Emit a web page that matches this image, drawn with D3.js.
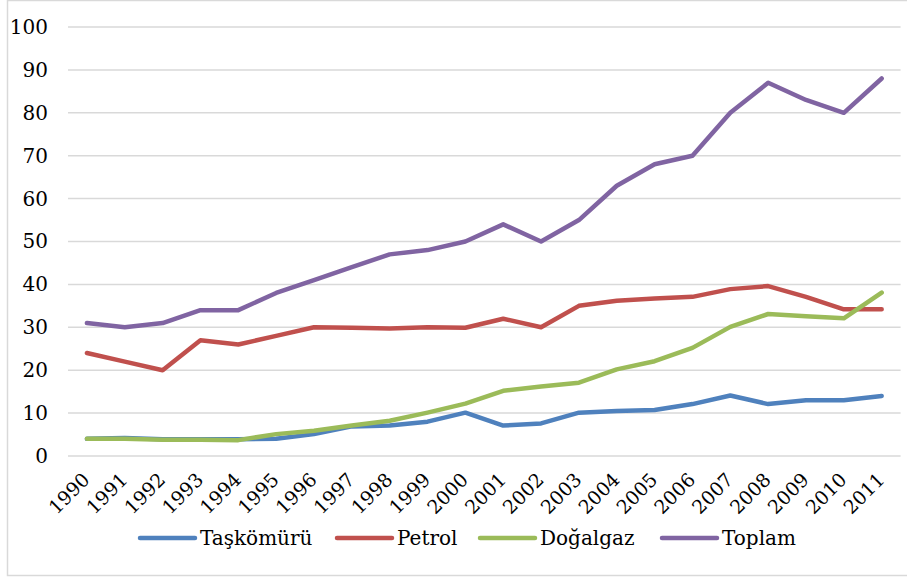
<!DOCTYPE html>
<html><head><meta charset="utf-8">
<script src="https://cdn.jsdelivr.net/npm/d3@7"></script>
<style>body{margin:0;background:#fff}svg{display:block}</style>
</head><body><svg id="c" width="907" height="578" font-family="DejaVu Serif"></svg>
<script>
const years = ["1990","1991","1992","1993","1994","1995","1996","1997","1998","1999","2000","2001","2002","2003","2004","2005","2006","2007","2008","2009","2010","2011"];
const taskomuru = [4,4.2,3.9,3.9,3.9,4,5.1,6.9,7.1,8,10.1,7.1,7.6,10.1,10.5,10.7,12.1,14.1,12.1,13,13,14];
const petrol = [24,22,20,27,26,28,30,29.9,29.7,30,29.9,32,30,35,36.2,36.7,37.1,38.9,39.6,37.1,34.2,34.2];
const dogalgaz = [4,4,3.8,3.8,3.7,5.1,5.9,7.1,8.2,10.1,12.2,15.2,16.2,17.1,20.2,22.1,25.2,30.1,33.1,32.6,32.1,38.1];
const toplam = [31,30,31,34,34,38,41,44,47,48,50,54,50,55,63,68,70,80,87,83,80,88];
const yTicks = [0,10,20,30,40,50,60,70,80,90,100];
const seriesNames = ["Taşkömürü","Petrol","Doğalgaz","Toplam"];
const colors = ["#4F81BD","#C0504D","#9BBB59","#8064A2"];
const seriesData = [taskomuru, petrol, dogalgaz, toplam];
const FONT = "DejaVu Serif";

const svg = d3.select("#c");
svg.append("rect").attr("x",7.5).attr("y",0.5).attr("width",905).attr("height",575).attr("fill","none").attr("stroke","#d9d9d9").attr("stroke-width",1.5);

const x = d3.scaleBand().domain(years).range([68,900.6]);
const y = d3.scaleLinear().domain([0,100]).range([456,27]);

const grid = svg.append("g");
grid.selectAll("line").data(yTicks).join("line")
  .attr("x1",68).attr("x2",900.6).attr("y1",d=>y(d)).attr("y2",d=>y(d))
  .attr("stroke","#d9d9d9").attr("stroke-width",1.5);

const yAxis = svg.append("g").attr("transform","translate(60,0)")
  .call(d3.axisLeft(y).tickValues(yTicks).tickSize(0).tickPadding(12));
yAxis.select(".domain").remove();
yAxis.attr("font-family",FONT).attr("font-size",20);
yAxis.selectAll("text").attr("fill","#000");

const xAxis = svg.append("g").attr("transform","translate(0,456)")
  .call(d3.axisBottom(x).tickSize(0));
xAxis.select(".domain").remove();
xAxis.attr("font-family",FONT).attr("font-size",19);
xAxis.selectAll("text").attr("fill","#000")
  .attr("text-anchor","end").attr("dy",null).attr("y",0)
  .attr("transform","translate(4,25) rotate(-45)");

const line = d3.line().x((d,i)=>x(years[i])+x.bandwidth()/2).y(d=>y(d));
seriesData.forEach((s,k)=>{
  svg.append("path").datum(s).attr("d",line).attr("fill","none")
    .attr("stroke",colors[k]).attr("stroke-width",4.5).attr("stroke-linejoin","round").attr("stroke-linecap","round");
});

const legX = [140,337,480,662];
const lg = svg.append("g").attr("font-family",FONT).attr("font-size",20);
seriesNames.forEach((n,k)=>{
  lg.append("line").attr("x1",legX[k]).attr("x2",legX[k]+55).attr("y1",538).attr("y2",538)
    .attr("stroke",colors[k]).attr("stroke-width",4.5).attr("stroke-linecap","round");
  lg.append("text").attr("x",legX[k]+60).attr("y",545).attr("fill","#000").text(n);
});
</script></body></html>
